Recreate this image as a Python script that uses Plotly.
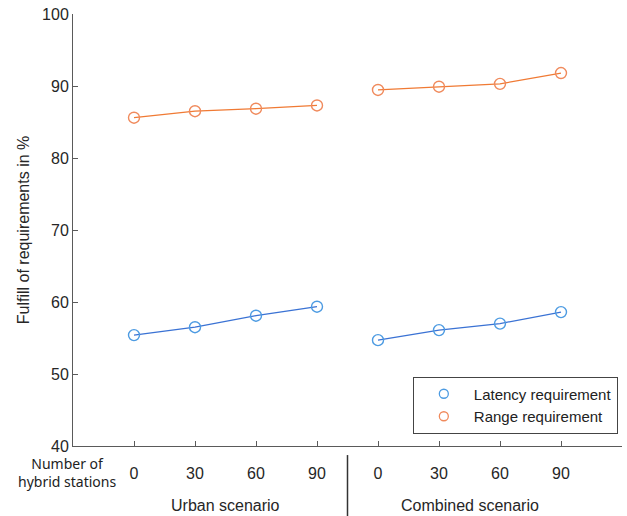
import plotly.graph_objects as go

scenarios = ["Urban scenario", "Combined scenario"]
hybrid_stations = [0, 30, 60, 90]
latency_urban = [55.4, 56.5, 58.1, 59.35]
latency_combined = [54.7, 56.1, 57.0, 58.6]
range_urban = [85.6, 86.5, 86.85, 87.3]
range_combined = [89.45, 89.9, 90.3, 91.8]

n = len(hybrid_stations)
x_urban = [i + 1 for i in range(n)]
x_comb = [i + 1 + n for i in range(n)]

blue_line = "#3a72d4"
blue_mk = "#4d9be2"
orange_line = "#f07a34"
orange_mk = "#f08a5c"
axis_col = "#5a5a5a"
txt = "#262626"
FONT = "Liberation Sans, Arial, sans-serif"

fig = go.Figure()

def add_series(xs, ys, lc, mc):
    fig.add_trace(go.Scatter(
        x=xs, y=ys, mode="lines+markers", showlegend=False,
        line=dict(color=lc, width=1.3),
        marker=dict(symbol="circle-open", size=11, color=mc, line=dict(width=1.4, color=mc)),
    ))

add_series(x_urban, latency_urban, blue_line, blue_mk)
add_series(x_comb, latency_combined, blue_line, blue_mk)
add_series(x_urban, range_urban, orange_line, orange_mk)
add_series(x_comb, range_combined, orange_line, orange_mk)

for name, mc in [("Latency requirement", blue_mk), ("Range requirement", orange_mk)]:
    fig.add_trace(go.Scatter(
        x=[None], y=[None], mode="markers", name=name,
        marker=dict(symbol="circle-open", size=9, color=mc, line=dict(width=1.3, color=mc)),
    ))

tickvals = x_urban + x_comb
ticktext = [str(h) for h in hybrid_stations] * 2

fig.update_layout(
    width=627, height=516,
    margin=dict(l=73, r=5, t=14, b=70),
    paper_bgcolor="white", plot_bgcolor="white",
    font=dict(family=FONT, size=16, color=txt),
    legend=dict(
        x=0.619, y=0.0949, xanchor="left", yanchor="middle",
        bordercolor="#444", borderwidth=1, bgcolor="white",
        font=dict(size=15, color="#222"), itemwidth=50,
        tracegroupgap=0,
    ),
    xaxis=dict(
        range=[0, 2 * n + 1], tickvals=tickvals, ticktext=ticktext,
        showgrid=False, zeroline=False, showline=True, linecolor=axis_col, linewidth=1,
        ticks="inside", ticklen=5, tickcolor=axis_col, tickfont=dict(size=16, color=txt),
        ticklabelstandoff=13,
    ),
    yaxis=dict(
        range=[40, 100], tickvals=[40, 50, 60, 70, 80, 90, 100],
        showgrid=False, zeroline=False, showline=True, linecolor=axis_col, linewidth=1,
        ticks="inside", ticklen=5, tickcolor=axis_col, tickfont=dict(size=16, color=txt),
        title=dict(text="Fulfill of requirements in %", font=dict(size=16, color=txt), standoff=8),
    ),
)

fig.add_annotation(
    x=-0.011, y=-0.0613, xref="paper", yref="paper", text="Number of<br>hybrid stations",
    showarrow=False, xanchor="center", yanchor="middle", align="center",
    font=dict(family="Noto Sans, Open Sans, sans-serif", size=14, color="#222"),
)
for i, s in enumerate(scenarios):
    fig.add_annotation(
        x=(n + 1) / 2 + i * n, y=-0.137, xref="x", yref="paper", text=s,
        showarrow=False, xanchor="center", yanchor="middle",
        font=dict(size=16, color=txt),
    )
fig.add_shape(
    type="line", xref="x", yref="paper", x0=n + 0.5, x1=n + 0.5, y0=-0.021, y1=-0.165,
    line=dict(color="#333", width=1.5),
)

fig.write_html("out.html")
